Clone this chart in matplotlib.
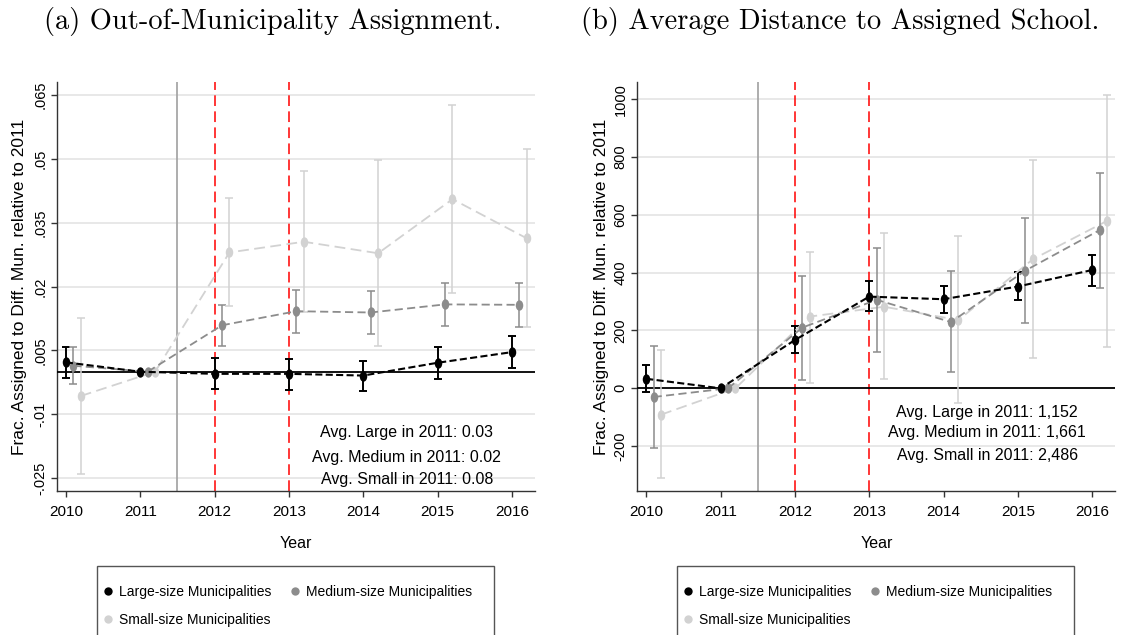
import matplotlib
matplotlib.use('Agg')
import matplotlib.pyplot as plt
import numpy as np
from matplotlib.lines import Line2D
from matplotlib.patches import Rectangle
from matplotlib.path import Path
from matplotlib.transforms import Affine2D

plt.rcParams['font.family'] = ['Liberation Sans', 'DejaVu Sans']

years = np.array([2010, 2011, 2012, 2013, 2014, 2015, 2016])
groups = ['Large-size Municipalities', 'Medium-size Municipalities', 'Small-size Municipalities']
nan = np.nan

# (a) out-of-municipality assignment, point estimates and 95% CI bounds
out_large = [0.0022, 0.0, -0.0005, -0.0005, -0.0009, 0.0021, 0.0046]
out_large_lo = [-0.0015, nan, -0.0040, -0.0042, -0.0045, -0.0016, 0.0008]
out_large_hi = [0.0058, nan, 0.0033, 0.0029, 0.0026, 0.0058, 0.0083]
out_medium = [0.0014, 0.0, 0.0109, 0.0142, 0.0139, 0.0158, 0.0157]
out_medium_lo = [-0.0030, nan, 0.0060, 0.0091, 0.0089, 0.0107, 0.0105]
out_medium_hi = [0.0058, nan, 0.0157, 0.0191, 0.0190, 0.0209, 0.0209]
out_small = [-0.0057, 0.0, 0.0280, 0.0305, 0.0278, 0.0405, 0.0313]
out_small_lo = [-0.0240, nan, 0.0155, 0.0141, 0.0060, 0.0184, 0.0104]
out_small_hi = [0.0126, nan, 0.0408, 0.0470, 0.0497, 0.0626, 0.0522]

# (b) average distance to assigned school
dist_large = [33, 0, 167, 317, 308, 352, 409]
dist_large_lo = [-12, nan, 123, 266, 262, 304, 355]
dist_large_hi = [80, nan, 216, 370, 354, 401, 461]
dist_medium = [-30, 0, 210, 306, 229, 407, 547]
dist_medium_lo = [-206, nan, 29, 125, 57, 225, 347]
dist_medium_hi = [147, nan, 390, 484, 407, 589, 745]
dist_small = [-91, 0, 248, 282, 236, 446, 579]
dist_small_lo = [-309, nan, 17, 31, -52, 106, 144]
dist_small_hi = [131, nan, 472, 537, 525, 790, 1015]

out_ticks = [-0.025, -0.01, 0.005, 0.02, 0.035, 0.05, 0.065]
out_ticklabels = ['-.025', '-.01', '.005', '.02', '.035', '.05', '.065']
dist_ticks = [-200, 0, 200, 400, 600, 800, 1000]

out_notes = ['Avg. Large in 2011: 0.03', 'Avg. Medium in 2011: 0.02', 'Avg. Small in 2011: 0.08']
dist_notes = ['Avg. Large in 2011: 1,152', 'Avg. Medium in 2011: 1,661', 'Avg. Small in 2011: 2,486']

colors = ['black', '#8c8c8c', '#d2d2d2']
offsets = [0.0, 0.1, 0.2]
dash_styles = [(0, (3.4, 1.6)), (0, (4.5, 2.4)), (0, (6, 3))]
line_widths = [1.5, 1.3, 1.3]
bar_widths = [1.4, 1.1, 1.1]

# tall, narrow marker (the original graph was stretched vertically)
ellipse = Path.unit_circle().transformed(Affine2D().scale(0.72, 1.0))

W, H = 1121, 635
fig = plt.figure(figsize=(W / 100, H / 100), dpi=100)


def draw_panel(ax, series, ylim, yticks, yticklabels, notes, note_y):
    ax.set_xlim(2009.88, 2016.31)
    ax.set_ylim(*ylim)
    for i in (2, 1, 0):
        est, lo, hi = [np.array(s, dtype=float) for s in series[i]]
        x = years + offsets[i]
        yerr = np.vstack([est - lo, hi - est])
        ax.errorbar(x, est, yerr=yerr, fmt='none', ecolor=colors[i],
                    elinewidth=bar_widths[i], capsize=3, capthick=bar_widths[i], zorder=4 + i)
        ax.plot(x, est, color=colors[i], linestyle=dash_styles[i], lw=line_widths[i],
                marker=ellipse, markersize=7.5, markeredgewidth=0, zorder=5 + 2 * (2 - i))
    ax.axhline(0, color='black', lw=1.3, zorder=3)
    ax.axvline(2011.5, color='#a0a0a0', lw=1.2, zorder=2)
    for yr in (2012, 2013):
        ax.axvline(yr, color='red', lw=1.1, linestyle=(0, (7, 3.5)), zorder=2)
    ax.set_yticks(yticks)
    ax.set_yticklabels(yticklabels, rotation=90, va='center')
    ax.set_xticks(years)
    ax.grid(axis='y', color='#e6e6e6', lw=1.3, zorder=0)
    ax.set_axisbelow(True)
    for side in ('top', 'right'):
        ax.spines[side].set_visible(False)
    for side in ('left', 'bottom'):
        ax.spines[side].set_color('#333333')
        ax.spines[side].set_linewidth(1.0)
    ax.tick_params(axis='both', length=4, width=1, color='#333333', labelsize=10.5, pad=3)
    ax.tick_params(axis='x', labelsize=11, pad=6)
    ax.set_xlabel('Year', fontsize=11.5, labelpad=12)
    ax.set_ylabel('Frac. Assigned to Diff. Mun. relative to 2011', fontsize=12.5)
    for note, ny in zip(notes, note_y):
        ax.text(0.732, ny, note, transform=ax.transAxes, ha='center', va='center', fontsize=11.5)


axw = 478 / W
axh = 409 / H
axb = (H - 491) / H

ax1 = fig.add_axes([57 / W, axb, axw, axh])
draw_panel(ax1,
           [(out_large, out_large_lo, out_large_hi),
            (out_medium, out_medium_lo, out_medium_hi),
            (out_small, out_small_lo, out_small_hi)],
           (-0.028, 0.068), out_ticks, out_ticklabels, out_notes, [0.142, 0.081, 0.029])
ax1.yaxis.set_label_coords(-0.062, 0.5)

ax2 = fig.add_axes([637.3 / W, axb, axw, axh])
draw_panel(ax2,
           [(dist_large, dist_large_lo, dist_large_hi),
            (dist_medium, dist_medium_lo, dist_medium_hi),
            (dist_small, dist_small_lo, dist_small_hi)],
           (-355, 1059), dist_ticks, [str(t) for t in dist_ticks], dist_notes, [0.193, 0.142, 0.086])
ax2.yaxis.set_label_coords(-0.060, 0.5)

# panel captions (LaTeX style)
fig.text(273 / W, 1 - 22 / H, '(a) Out-of-Municipality Assignment.', ha='center', va='center',
         fontsize=20.5, family='cmr10')
fig.text(840 / W, 1 - 22 / H, '(b) Average Distance to Assigned School.', ha='center', va='center',
         fontsize=20.5, family='cmr10')

# legends under each panel, boxes run off the bottom edge; rows: Large, Medium / Small
order = [0, 2, 1]
handles = [Line2D([], [], linestyle='none', marker='o', markersize=6, markeredgewidth=0, color=colors[k])
           for k in order]
labels = [groups[k] for k in order]
for x0 in (97, 677):
    fig.patches.append(Rectangle((x0 / W, -0.05), 397 / W, (H - 566) / H + 0.05,
                                 transform=fig.transFigure, fill=False, edgecolor='#555555', lw=1.0))
    fig.legend(handles, labels, loc='upper left', bbox_to_anchor=((x0 - 3) / W, 1 - 575 / H), ncol=2,
               frameon=False, fontsize=10, handlelength=0.6, handletextpad=0.5,
               columnspacing=1.4, labelspacing=1.05, borderpad=0.2)

fig.savefig('out.png', dpi=100)
